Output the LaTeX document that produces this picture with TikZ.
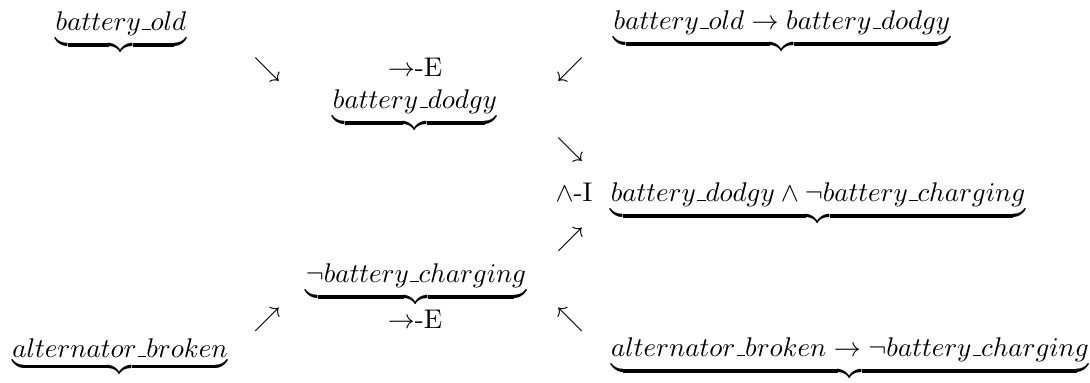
\documentclass[tikz,border=0pt]{standalone}
\newcommand\usc{\kern.06em\vbox{\hrule width.3em}}
\begin{document}
\begin{tikzpicture}[x=0.3704pt,y=-0.3704pt,
  formula/.style={anchor=base,inner sep=0pt,outer sep=0pt},
  rule/.style={anchor=base,inner sep=0pt},
  arr/.style={inner sep=0pt}]
\useasboundingbox (0,0) rectangle (1090,382);
% formulas
\node[formula] (bo) at (121,30) {$\underbrace{battery\usc old}$};
\node[formula] (bobd) at (782,29) {$\underbrace{battery\usc old \rightarrow battery\usc dodgy}$};
\node[rule] (r1) at (415,76) {$\rightarrow$-E};
\node[formula] (bd) at (415,108) {$\underbrace{battery\usc dodgy}$};
\node[rule] (r3) at (574,201) {$\wedge$-I};
\node[formula] (conj) at (818,201) {$\underbrace{battery\usc dodgy \wedge \neg battery\usc charging}$};
\node[formula] (nbc) at (416,282) {$\underbrace{\neg battery\usc charging}$};
\node[rule] (r2) at (415,328) {$\rightarrow$-E};
\node[formula] (ab) at (120,357) {$\underbrace{alternator\usc broken}$};
\node[formula] (abnbc) at (850,356) {$\underbrace{alternator\usc broken \rightarrow \neg battery\usc charging}$};
% arrows
\node[arr] (a1) at (267,70) {$\searrow$};
\node[arr] (a2) at (570,70) {$\swarrow$};
\node[arr] (a3) at (570,150) {$\searrow$};
\node[arr] (a4) at (570,240) {$\nearrow$};
\node[arr] (a5) at (267,320) {$\nearrow$};
\node[arr] (a6) at (570,320) {$\nwarrow$};
\end{tikzpicture}
\end{document}
